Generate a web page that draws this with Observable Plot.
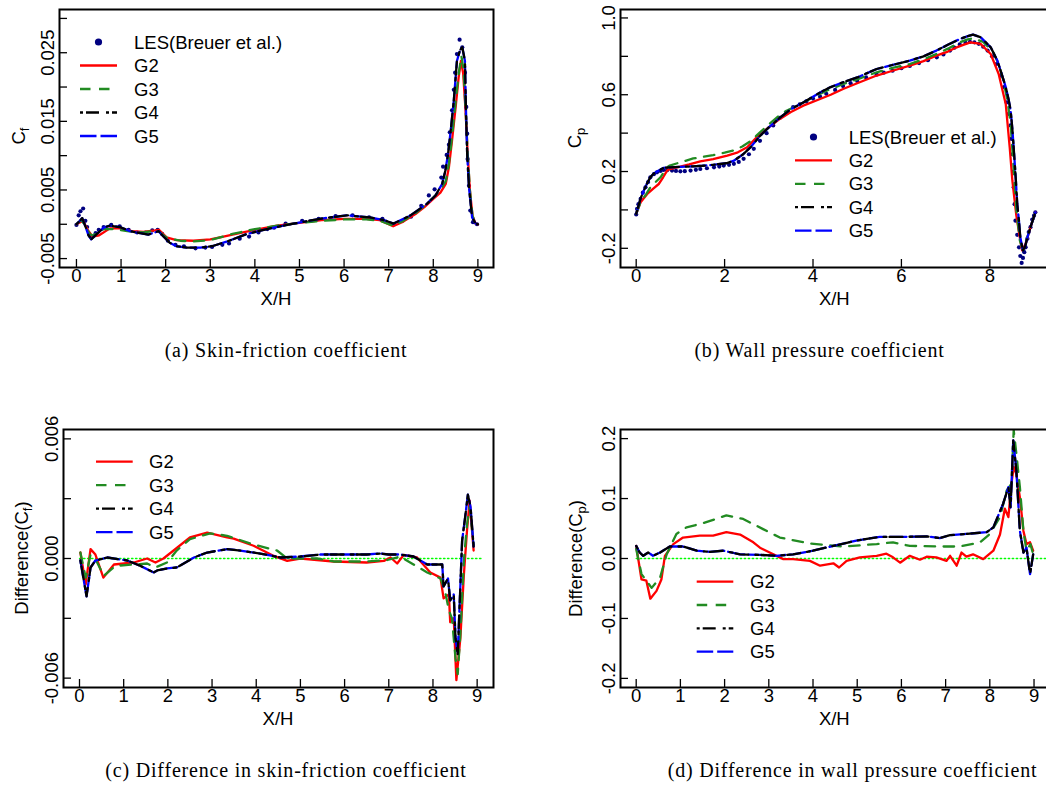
<!DOCTYPE html>
<html><head><meta charset="utf-8">
<script src="https://cdn.jsdelivr.net/npm/d3@7"></script>
<script src="https://cdn.jsdelivr.net/npm/@observablehq/plot@0.6"></script>
<style>
body{margin:0;background:#fff;overflow:hidden;}
#page{position:relative;width:1046px;height:786px;overflow:hidden;background:#fff;}
.panel{position:absolute;}
.panel svg{overflow:visible;}
#overlay{position:absolute;left:0;top:0;pointer-events:none;}
</style></head><body><div id="page"></div>
<script>
// ---------- series styling ----------
const seriesNames = ["G2", "G3", "G4", "G5"];
const seriesColors = ["#FF0000", "#228B22", "#000000", "#0000FF"];
const seriesDash = [null, "10.5,8.5", "3,3,13,7", "16.5,4"];
const drawOrder = [0, 1, 3, 2];
const lesName = "LES(Breuer et al.)";
const lesColor = "#000080";

// ---------- (a) skin friction ----------
const lesCfX = [0,0.05,0.09,0.15,0.2,0.24,0.33,0.43,0.5,0.61,0.78,0.97,1.17,1.36,1.55,1.7,1.82,1.92,2.05,2.22,2.41,2.67,2.89,3.04,3.27,3.42,3.66,3.87,4.08,4.28,4.43,4.69,5.06,5.43,5.81,6.19,6.56,6.86,7.12,7.31,7.5,7.73,7.9,8.03,8.18,8.22,8.3,8.35,8.37,8.42,8.46,8.49,8.53,8.59,8.65,8.71,8.74,8.76,8.77,8.8,8.83,8.89,8.98];
const lesCfY = [-0.0001,0.0013,0.0019,0.0023,0.0005,-0.0004,-0.0019,-0.0013,-0.0008,-0.0004,-0.0001,-0.0003,-0.0008,-0.0012,-0.0012,-0.0009,-0.0008,-0.0014,-0.0024,-0.003,-0.0032,-0.0035,-0.0034,-0.0033,-0.003,-0.0028,-0.0021,-0.0018,-0.0012,-0.0007,-0.0005,0.0001,0.0005,0.0008,0.0012,0.0013,0.001,0.0008,0.0,0.0005,0.0011,0.0027,0.0042,0.0051,0.0068,0.0084,0.0101,0.0116,0.0134,0.0166,0.0196,0.0221,0.0248,0.0269,0.0258,0.0221,0.0171,0.0132,0.0095,0.0056,0.002,0.0003,0.0];
const cfG2X = [0,0.15,0.25,0.36,0.51,0.75,0.97,1.24,1.5,1.76,1.85,2.02,2.24,2.62,3.0,3.22,3.5,4.0,4.5,5.0,5.5,6.0,6.5,6.8,7.1,7.3,7.6,7.8,8.0,8.16,8.28,8.35,8.42,8.5,8.57,8.62,8.67,8.72,8.77,8.82,8.88,8.95,9.0];
const cfG2Y = [0,0.0005,-0.0008,-0.0018,-0.0016,-0.0006,-0.0006,-0.001,-0.0011,-0.0009,-0.0008,-0.0019,-0.0023,-0.0024,-0.0022,-0.0019,-0.0015,-0.0008,-0.0002,0.0002,0.0006,0.0008,0.0008,0.0006,-0.0003,0.0003,0.0015,0.0025,0.0037,0.0046,0.0059,0.0083,0.0122,0.017,0.0215,0.0238,0.022,0.017,0.0105,0.005,0.0012,0.0001,0];
const cfG3X = [0,0.11,0.2,0.31,0.38,0.61,0.84,1.14,1.5,1.81,2.03,2.33,2.62,3.0,3.22,3.5,4.0,4.5,5.0,5.5,6.0,6.5,6.8,7.1,7.3,7.6,7.8,8.0,8.16,8.28,8.35,8.42,8.5,8.57,8.63,8.68,8.72,8.77,8.82,8.88,8.95,9.0];
const cfG3Y = [0,0.0007,-0.0004,-0.0015,-0.0016,-0.0007,-0.0007,-0.001,-0.0012,-0.0009,-0.002,-0.0024,-0.0025,-0.0023,-0.0019,-0.0014,-0.0007,-0.0002,0.0002,0.0005,0.0007,0.0007,0.0005,-0.0002,0.0004,0.0016,0.0027,0.0039,0.005,0.0063,0.0088,0.0128,0.0178,0.022,0.0245,0.0225,0.0172,0.0105,0.005,0.0012,0.0001,0];
const cfG4X = [0,0.06,0.13,0.2,0.27,0.33,0.46,0.61,0.75,0.97,1.2,1.43,1.61,1.76,1.84,1.94,2.09,2.24,2.48,2.78,3.04,3.38,3.83,4.27,4.87,5.46,6.06,6.58,6.9,7.11,7.49,7.86,8.05,8.2,8.27,8.33,8.39,8.46,8.53,8.6,8.65,8.71,8.73,8.76,8.8,8.87,8.95,9.0];
const cfG4Y = [0,0.0004,0.0009,-0.0003,-0.0016,-0.0022,-0.0014,-0.0005,-0.0002,-0.0004,-0.001,-0.0013,-0.0015,-0.0012,-0.001,-0.0017,-0.0027,-0.0032,-0.0034,-0.0034,-0.0032,-0.0025,-0.0014,-0.0007,0.0001,0.0008,0.0013,0.001,0.0006,0.0001,0.0013,0.003,0.0042,0.0059,0.0078,0.0102,0.0136,0.018,0.0238,0.0254,0.0258,0.0238,0.0174,0.0102,0.0054,0.001,0.0001,0.0];
const cfG5X = cfG4X, cfG5Y = cfG4Y;
const cfTicks = [-0.005,0,0.005,0.01,0.015,0.02,0.025,0.03];
const cfTickLabels = [-0.005,0.005,0.015,0.025];

// ---------- (b) wall pressure ----------
const lesCpX = [0,0.02,0.05,0.1,0.15,0.21,0.27,0.32,0.4,0.47,0.55,0.62,0.7,0.81,0.9,1.0,1.1,1.23,1.35,1.45,1.6,1.76,1.88,1.98,2.1,2.21,2.32,2.43,2.55,2.66,2.8,2.95,3.1,3.25,3.4,3.55,3.7,3.85,4.0,4.16,4.3,4.5,4.68,4.85,5.0,5.2,5.44,5.6,5.8,6.0,6.19,6.4,6.6,6.8,6.95,7.1,7.2,7.32,7.45,7.55,7.65,7.75,7.85,7.95,8.05,8.15,8.25,8.32,8.38,8.43,8.47,8.49,8.51,8.53,8.54,8.56,8.58,8.62,8.66,8.69,8.72,8.75,8.78,8.81,8.85,8.88,8.92,8.96,9.0,9.03];
const lesCpY = [-0.024,0.005,0.03,0.057,0.09,0.118,0.145,0.17,0.186,0.196,0.203,0.208,0.207,0.205,0.203,0.201,0.202,0.205,0.209,0.213,0.217,0.222,0.226,0.231,0.235,0.24,0.25,0.266,0.29,0.318,0.36,0.4,0.44,0.48,0.51,0.535,0.55,0.565,0.58,0.59,0.605,0.625,0.645,0.66,0.672,0.69,0.705,0.715,0.725,0.738,0.75,0.765,0.78,0.795,0.81,0.83,0.845,0.862,0.87,0.875,0.873,0.865,0.85,0.83,0.8,0.76,0.7,0.64,0.56,0.5,0.44,0.37,0.29,0.2,0.118,0.03,-0.056,-0.13,-0.195,-0.24,-0.276,-0.25,-0.22,-0.195,-0.15,-0.115,-0.09,-0.05,-0.03,-0.0125];
const cpG2X = [0,0.1,0.25,0.38,0.51,0.61,0.7,0.76,0.93,1.2,1.45,1.74,2.06,2.3,2.51,2.8,3.0,3.25,3.5,3.78,4.16,4.4,4.68,5.0,5.44,5.8,6.19,6.5,6.79,7.05,7.25,7.4,7.56,7.79,8.02,8.2,8.36,8.45,8.51,8.6,8.69,8.73,8.81,8.92,9.03];
const cpG2Y = [-0.02,0.04,0.083,0.11,0.135,0.17,0.205,0.213,0.222,0.237,0.253,0.265,0.283,0.3,0.326,0.396,0.43,0.474,0.51,0.543,0.578,0.6,0.63,0.66,0.7,0.725,0.752,0.775,0.804,0.825,0.847,0.86,0.873,0.865,0.812,0.708,0.552,0.326,0.152,-0.03,-0.16,-0.21,-0.177,-0.09,-0.0125];
const cpG3X = [0,0.1,0.23,0.32,0.55,0.7,0.76,1.0,1.29,1.45,1.74,2.0,2.2,2.4,2.6,2.8,3.0,3.2,3.4,3.7,3.93,4.31,4.68,5.0,5.44,5.8,6.19,6.5,6.79,7.05,7.32,7.5,7.62,7.85,8.08,8.2,8.3,8.4,8.47,8.53,8.6,8.68,8.74,8.81,8.92,9.03];
const cpG3Y = [-0.02,0.04,0.084,0.118,0.17,0.222,0.231,0.248,0.268,0.274,0.285,0.298,0.31,0.33,0.36,0.404,0.445,0.485,0.517,0.55,0.578,0.621,0.656,0.68,0.717,0.74,0.76,0.785,0.812,0.84,0.873,0.888,0.894,0.875,0.82,0.76,0.68,0.57,0.45,0.25,0.0,-0.16,-0.205,-0.17,-0.09,-0.0125];
const cpG4X = [0,0.1,0.17,0.25,0.32,0.4,0.47,0.55,0.62,0.76,1.0,1.29,1.5,1.74,2.04,2.2,2.42,2.6,2.8,3.0,3.25,3.5,3.78,4.0,4.16,4.4,4.68,5.0,5.44,5.8,6.19,6.5,6.79,7.05,7.32,7.5,7.62,7.79,8.02,8.17,8.28,8.36,8.42,8.47,8.51,8.55,8.59,8.62,8.66,8.69,8.75,8.8,8.85,8.92,9.03];
const cpG4Y = [-0.02,0.06,0.1,0.14,0.17,0.19,0.2,0.21,0.219,0.222,0.224,0.227,0.23,0.235,0.243,0.255,0.29,0.33,0.385,0.43,0.48,0.525,0.56,0.59,0.612,0.64,0.665,0.69,0.734,0.755,0.778,0.8,0.83,0.86,0.89,0.905,0.913,0.9,0.847,0.778,0.7,0.64,0.58,0.52,0.42,0.29,0.15,0.031,-0.06,-0.143,-0.212,-0.19,-0.143,-0.09,-0.0125];
const cpG5X = cpG4X, cpG5Y = cpG4Y;
const cpTicks = [-0.2,0,0.2,0.4,0.6,0.8,1.0];
const cpTickLabels = [-0.2,0.2,0.6,1.0];

// ---------- (c) difference in skin friction ----------
const dCfG2X = [0.02,0.14,0.25,0.36,0.54,0.78,1.23,1.53,1.72,1.9,2.13,2.5,2.89,3.34,3.49,3.94,4.4,4.7,5.0,5.75,6.5,6.89,7.04,7.19,7.34,7.64,7.94,8.17,8.24,8.36,8.39,8.47,8.53,8.62,8.7,8.77,8.83,8.92];
const dCfG2Y = [0.0003,-0.0013,0.00047,0.0002,-0.00096,-0.0003,-0.0002,0.0,-0.0002,0.0,0.0004,0.00106,0.0013,0.00106,0.001,0.00064,0.00013,-0.00012,0.0,-0.00015,-0.0002,-0.00012,0.00005,-0.00025,0.00018,0.00005,-0.0007,-0.00096,-0.002,-0.0018,-0.0032,-0.003,-0.0061,-0.004,-0.0008,0.0014,0.0029,0.0004];
const dCfG3X = [0.02,0.14,0.25,0.4,0.55,0.81,1.23,1.53,1.72,1.98,2.2,2.5,2.96,3.34,3.94,4.47,4.7,5.38,5.75,6.5,6.96,7.26,7.56,7.87,8.17,8.28,8.36,8.43,8.51,8.56,8.62,8.7,8.77,8.83,8.92];
const dCfG3Y = [0.0003,-0.00096,0.0002,-0.0002,-0.00087,-0.00037,-0.0003,-0.00025,-0.00045,-0.0002,0.0004,0.00097,0.00126,0.00114,0.0007,0.0004,0.0,0.0,-0.00015,-0.00015,-0.00008,0.0001,-0.0003,-0.0007,-0.001,-0.0017,-0.0026,-0.003,-0.005,-0.0058,-0.0038,-0.0001,0.0017,0.0026,0.0007];
const dCfG4X = [0.02,0.16,0.25,0.36,0.63,1.08,1.38,1.68,1.76,1.98,2.2,2.59,2.89,3.34,3.64,4.09,4.55,5.0,5.45,6.5,6.81,7.0,7.26,7.56,7.87,8.21,8.24,8.34,8.39,8.47,8.51,8.56,8.66,8.73,8.79,8.85,8.92];
const dCfG4Y = [-0.0001,-0.0019,-0.00045,-0.0001,0.00005,-0.0001,-0.00037,-0.0007,-0.0006,-0.0005,-0.00045,0.00005,0.0003,0.00047,0.0004,0.00025,0.00005,0.0001,0.0002,0.0002,0.00025,0.0002,0.0002,0.0001,-0.0003,-0.0003,-0.0014,-0.001,-0.0021,-0.0018,-0.004,-0.0048,0.0009,0.0021,0.0032,0.0026,0.0006];
const dCfG5X = dCfG4X, dCfG5Y = dCfG4Y;
const dCfTicks = [-0.006,-0.003,0,0.003,0.006];
const dCfTickLabels = [-0.006,0,0.006];
const zeroCX = [0, 9.1];

// ---------- (d) difference in wall pressure ----------
const dCpG2X = [0,0.12,0.23,0.32,0.46,0.57,0.65,0.84,1.06,1.44,1.74,2.04,2.35,2.65,2.8,3.02,3.33,3.55,3.93,4.16,4.46,4.59,4.76,5.06,5.44,5.66,5.81,5.97,6.19,6.42,6.57,6.79,7.02,7.1,7.25,7.36,7.47,7.62,7.85,8.08,8.23,8.34,8.42,8.49,8.54,8.6,8.68,8.76,8.83,8.91,8.98];
const dCpG2Y = [0.021,-0.035,-0.037,-0.067,-0.054,-0.035,0.0045,0.024,0.035,0.038,0.038,0.044,0.04,0.027,0.018,0.01,-0.001,-0.001,-0.004,-0.012,-0.008,-0.015,-0.004,0.002,0.0045,0.008,0.002,-0.007,0.0045,-0.002,0.003,0.002,-0.004,0.0045,-0.012,0.01,0.003,0.007,-0.001,0.013,0.04,0.083,0.069,0.125,0.153,0.141,0.102,0.046,0.024,0.027,0.013];
const dCpG3X = [0,0.12,0.35,0.54,0.69,0.91,1.14,1.52,2.04,2.42,2.87,3.25,3.93,4.68,5.44,5.81,6.19,6.95,7.32,7.78,8.0,8.23,8.38,8.49,8.54,8.6,8.68,8.76,8.83,8.92,8.98];
const dCpG3Y = [0.016,-0.026,-0.049,-0.032,0.007,0.041,0.052,0.059,0.072,0.066,0.049,0.035,0.025,0.02,0.024,0.027,0.021,0.02,0.02,0.027,0.041,0.069,0.113,0.125,0.214,0.175,0.119,0.046,0.013,0.024,0.007];
const dCpG4X = [0,0.08,0.16,0.27,0.38,0.54,0.76,1.06,1.37,1.67,1.97,2.35,2.8,3.17,3.55,4.0,4.46,4.98,5.51,6.04,6.57,6.87,7.1,7.47,7.93,8.08,8.3,8.42,8.47,8.53,8.6,8.68,8.76,8.83,8.91,8.98];
const dCpG4Y = [0.021,0.01,0.0045,0.01,0.0045,0.01,0.02,0.02,0.013,0.011,0.013,0.007,0.006,0.0045,0.007,0.013,0.021,0.03,0.036,0.036,0.037,0.034,0.039,0.041,0.044,0.052,0.091,0.119,0.085,0.197,0.147,0.046,0.01,0.018,-0.026,0.007];
const dCpG5X = dCpG4X, dCpG5Y = dCpG4Y;
const dCpTicks = [-0.2,-0.1,0,0.1,0.2];
const zeroDX = [0, 9.4];

const xTicks9 = [0,1,2,3,4,5,6,7,8,9];
const xTicksEven = [0,2,4,6,8];

// ---------- layout ----------
const FONT = '"Liberation Sans", Arial, Helvetica, sans-serif';
const SERIF = '"Liberation Serif", "Times New Roman", serif';
const FS = 18.5;
const page = document.getElementById("page");
const toPts = (xs, ys) => xs.map((x, i) => ({x, y: ys[i]}));

function makePanel(cfg) {
  const marks = [];
  if (cfg.zero) marks.push(Plot.line(toPts(cfg.zero, cfg.zero.map(() => 0)), {x: "x", y: "y", stroke: "#00FF00", strokeWidth: 1.3, strokeDasharray: "1.5,2.5"}));
  if (cfg.les) marks.push(Plot.dot(toPts(cfg.les[0], cfg.les[1]), {x: "x", y: "y", r: 2.1, fill: lesColor, stroke: "none"}));
  drawOrder.forEach(i => {
    const s = cfg.series[i];
    const o = {x: "x", y: "y", stroke: seriesColors[i], strokeWidth: 2.3, strokeLinejoin: "round"};
    if (seriesDash[i]) o.strokeDasharray = seriesDash[i];
    marks.push(Plot.line(toPts(s[0], s[1]), o));
  });
  marks.push(
    Plot.frame({stroke: "black", strokeWidth: 2}),
    Plot.axisX(cfg.xTicks, {tickSize: 8, dy: -8, strokeWidth: 1.3, fill: "none", label: null}),
    Plot.axisX(cfg.xTicks, {tickSize: 0, tickPadding: 1.5, stroke: "none", tickFormat: d => String(d), label: null}),
    Plot.axisY(cfg.yTicks, {tickSize: 8, dx: 8, strokeWidth: 1.3, fill: "none", label: null}),
    Plot.axisY(cfg.yLabels, {tickSize: 0, tickPadding: 5.5, tickRotate: -90, stroke: "none", tickFormat: cfg.yFmt, label: null})
  );
  const svg = Plot.plot({
    width: cfg.width, height: cfg.height,
    marginLeft: cfg.mL, marginRight: cfg.mR, marginTop: cfg.mT, marginBottom: cfg.mB,
    style: {fontFamily: FONT, fontSize: FS + "px", background: "transparent", color: "black", maxWidth: "none", overflow: "visible"},
    x: {domain: cfg.xDomain, axis: null},
    y: {domain: cfg.yDomain, axis: null},
    marks
  });
  const s = d3.select(svg);
  s.append("text").attr("x", cfg.xLab[0]).attr("y", cfg.xLab[1]).attr("text-anchor", "middle")
    .attr("font-family", FONT).attr("font-size", FS).attr("fill", "black").text("X/H");
  const t = s.append("text").attr("transform", `translate(${cfg.yLab[0]},${cfg.yLab[1]}) rotate(-90)`)
    .attr("text-anchor", "middle").attr("font-family", FONT).attr("font-size", FS).attr("fill", "black");
  cfg.yTitle.forEach(([str, kind]) => {
    const ts = t.append("tspan").text(str);
    if (kind === "sub") ts.attr("font-size", 13).attr("dy", 4);
    if (kind === "back") ts.attr("dy", -4);
  });
  const div = document.createElement("div");
  div.className = "panel";
  div.style.left = cfg.left + "px"; div.style.top = cfg.top + "px";
  div.style.width = cfg.width + "px"; div.style.height = cfg.height + "px";
  div.appendChild(svg);
  page.appendChild(div);
}

makePanel({
  left: 0, top: 0, width: 520, height: 320, mL: 59, mR: 27, mT: 9, mB: 53,
  xDomain: [-0.38, 9.35], yDomain: [-0.0063, 0.0313],
  xTicks: xTicks9, yTicks: cfTicks, yLabels: cfTickLabels, yFmt: d => d.toFixed(3),
  les: [lesCfX, lesCfY],
  series: [[cfG2X, cfG2Y], [cfG3X, cfG3Y], [cfG4X, cfG4Y], [cfG5X, cfG5Y]],
  xLab: [276, 305], yLab: [25, 136], yTitle: [["C"], ["f", "sub"]]
});
makePanel({
  left: 526, top: 0, width: 530, height: 320, mL: 94, mR: 7, mT: 9, mB: 53,
  xDomain: [-0.355, 9.35], yDomain: [-0.3, 1.044],
  xTicks: xTicksEven, yTicks: cpTicks, yLabels: cpTickLabels, yFmt: d => d.toFixed(1),
  les: [lesCpX, lesCpY],
  series: [[cpG2X, cpG2Y], [cpG3X, cpG3Y], [cpG4X, cpG4Y], [cpG5X, cpG5Y]],
  xLab: [308.3, 305], yLab: [55, 138], yTitle: [["C"], ["p", "sub"]]
});
makePanel({
  left: 0, top: 420, width: 520, height: 320, mL: 63, mR: 27, mT: 9, mB: 53,
  xDomain: [-0.362, 9.37], yDomain: [-0.00647, 0.00647],
  xTicks: xTicks9, yTicks: dCfTicks, yLabels: dCfTickLabels, yFmt: d => d.toFixed(3),
  zero: zeroCX,
  series: [[dCfG2X, dCfG2Y], [dCfG3X, dCfG3Y], [dCfG4X, dCfG4Y], [dCfG5X, dCfG5Y]],
  xLab: [278, 305], yLab: [27.7, 138], yTitle: [["Difference(C"], ["f", "sub"], [")", "back"]]
});
makePanel({
  left: 526, top: 420, width: 530, height: 320, mL: 94, mR: 7, mT: 9, mB: 53,
  xDomain: [-0.355, 9.35], yDomain: [-0.2152, 0.2152],
  xTicks: xTicks9, yTicks: dCpTicks, yLabels: dCpTicks, yFmt: d => d.toFixed(1),
  zero: zeroDX,
  series: [[dCpG2X, dCpG2Y], [dCpG3X, dCpG3Y], [dCpG4X, dCpG4Y], [dCpG5X, dCpG5Y]],
  xLab: [308.3, 305], yLab: [56, 138.5], yTitle: [["Difference(C"], ["p", "sub"], [")", "back"]]
});

// ---------- legends and captions (overlay) ----------
const legendBoxes = [
  {x0: 80, x1: 117, tx: 134, y0: 42, dy: 23.5, les: true},
  {x0: 795, x1: 832, tx: 848.7, y0: 137, dy: 23.4, les: true},
  {x0: 96, x1: 132.7, tx: 149, y0: 461.7, dy: 23.5, les: false},
  {x0: 696.7, x1: 733.3, tx: 750, y0: 581.7, dy: 23.3, les: false}
];
const captions = [
  {text: "(a) Skin-friction coefficient", x: 286, y: 357},
  {text: "(b) Wall pressure coefficient", x: 819.5, y: 357},
  {text: "(c) Difference in skin-friction coefficient", x: 286, y: 777},
  {text: "(d) Difference in wall pressure coefficient", x: 852.5, y: 777}
];
const ov = d3.select(page).append("svg").attr("id", "overlay").attr("width", 1046).attr("height", 786);
legendBoxes.forEach(L => {
  let row = 0;
  const g = ov.append("g").attr("font-family", FONT).attr("font-size", FS);
  if (L.les) {
    const y = L.y0;
    g.append("circle").attr("cx", (L.x0 + L.x1) / 2).attr("cy", y).attr("r", 3.6).attr("fill", lesColor);
    g.append("text").attr("x", L.tx).attr("y", y + 6.6).text(lesName);
    row = 1;
  }
  seriesNames.forEach((name, i) => {
    const y = L.y0 + (row + i) * L.dy;
    const ln = g.append("line").attr("x1", L.x0).attr("x2", L.x1).attr("y1", y).attr("y2", y)
      .attr("stroke", seriesColors[i]).attr("stroke-width", 2.3);
    if (seriesDash[i]) ln.attr("stroke-dasharray", seriesDash[i]);
    g.append("text").attr("x", L.tx).attr("y", y + 6.6).text(name);
  });
});
captions.forEach(c => {
  ov.append("text").attr("x", c.x).attr("y", c.y).attr("text-anchor", "middle")
    .attr("font-family", SERIF).attr("font-size", 20).attr("letter-spacing", 0.8).attr("fill", "black").text(c.text);
});
</script></body></html>
